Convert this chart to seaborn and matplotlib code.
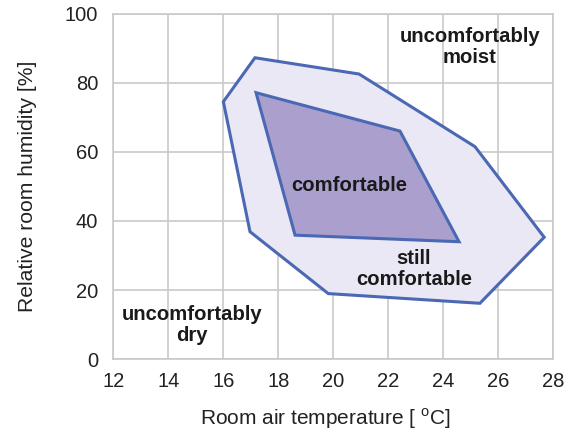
import matplotlib
matplotlib.use("Agg")
import matplotlib.pyplot as plt
import seaborn as sns

# polygon corners (temperature in degC, humidity in %)
still_temp = [17.15, 20.94, 25.16, 27.68, 25.34, 19.82, 16.97, 16.0]
still_hum = [87.2, 82.5, 61.5, 35.3, 16.2, 19.0, 36.9, 74.5]

comf_temp = [17.19, 22.43, 24.58, 18.61]
comf_hum = [77.1, 66.0, 34.0, 35.9]

x_ticks = [12, 14, 16, 18, 20, 22, 24, 26, 28]
y_ticks = [0, 20, 40, 60, 80, 100]

# zone labels: text, x, y
zone_text = ["uncomfortably\nmoist", "uncomfortably\ndry", "comfortable", "still\ncomfortable"]
zone_x = [24.98, 14.86, 20.6, 22.94]
zone_y = [90.3, 9.9, 50.4, 26.1]

sns.set_style("whitegrid")
plt.rcParams['font.family'] = ['Liberation Sans', 'DejaVu Sans']

grid_col = "#c9c9c9"
edge_col = "#4a68b4"

fig = plt.figure(figsize=(5.66, 4.30), dpi=100)
ax = fig.add_axes([0.2005, 0.1644, 0.7765, 0.8042])

ax.fill(still_temp, still_hum, facecolor="#ebe8f5", edgecolor=edge_col, linewidth=2.2, zorder=2)
ax.fill(comf_temp, comf_hum, facecolor="#ab9fcd", edgecolor=edge_col, linewidth=2.2, zorder=3)

for t, x, y in zip(zone_text, zone_x, zone_y):
    ax.text(x, y, t, ha="center", va="center", fontsize=14.6, fontweight="bold",
            color="#1a1a1a", linespacing=1.12, zorder=4)

ax.set_xlim(12, 28)
ax.set_ylim(0, 100)
ax.set_xticks(x_ticks)
ax.set_yticks(y_ticks)
ax.grid(True, color=grid_col, linewidth=1.2, zorder=0)
ax.set_axisbelow(True)
for s in ax.spines.values():
    s.set_color(grid_col)
    s.set_linewidth(1.2)

ax.tick_params(axis="x", length=5, width=1.2, color=grid_col, labelsize=14.5,
               labelcolor="#222222", pad=4)
ax.tick_params(axis="y", length=10, width=1.2, color=grid_col, labelsize=14.5,
               labelcolor="#222222", pad=1)

ax.set_xlabel("Room air temperature [ $^\\mathregular{o}$C]", fontsize=15, color="#222222", labelpad=11)
ax.xaxis.label.set_x(0.482)
ax.set_ylabel("Relative room humidity [%]", fontsize=15.2, color="#222222", labelpad=20)

fig.savefig("out.png", dpi=100)
